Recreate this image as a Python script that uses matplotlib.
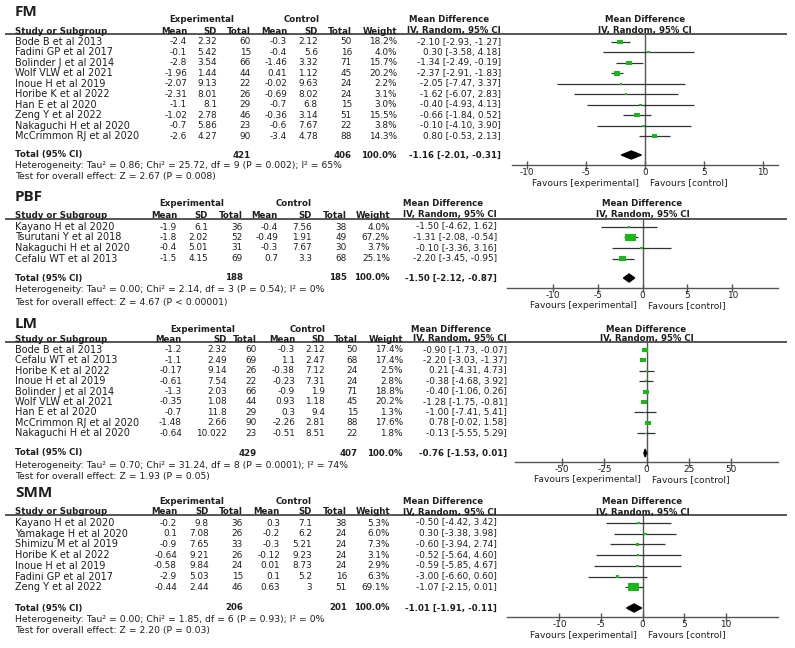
import numpy as np
import matplotlib.pyplot as plt

plt.rcParams['font.family'] = ['DejaVu Sans']

# ---------------- data ----------------
# FM
fm_studies = ['Bode B et al 2013', 'Fadini GP et al 2017', 'Bolinder J et al 2014',
              'Wolf VLW et al 2021', 'Inoue H et al 2019', 'Horibe K et al 2022',
              'Han E et al 2020', 'Zeng Y et al 2022', 'Nakaguchi H et al 2020',
              'McCrimmon RJ et al 2020']
fm_exp = [(-2.4, 2.32, 60), (-0.1, 5.42, 15), (-2.8, 3.54, 66), (-1.96, 1.44, 44),
          (-2.07, 9.13, 22), (-2.31, 8.01, 26), (-1.1, 8.1, 29), (-1.02, 2.78, 46),
          (-0.7, 5.86, 23), (-2.6, 4.27, 90)]
fm_ctl = [(-0.3, 2.12, 50), (-0.4, 5.6, 16), (-1.46, 3.32, 71), (0.41, 1.12, 45),
          (-0.02, 9.63, 24), (-0.69, 8.02, 24), (-0.7, 6.8, 15), (-0.36, 3.14, 51),
          (-0.6, 7.67, 22), (-3.4, 4.78, 88)]
fm_weight = [18.2, 4.0, 15.7, 20.2, 2.2, 3.1, 3.0, 15.5, 3.8, 14.3]
fm_ci = [(-2.10, -2.93, -1.27), (0.30, -3.58, 4.18), (-1.34, -2.49, -0.19),
         (-2.37, -2.91, -1.83), (-2.05, -7.47, 3.37), (-1.62, -6.07, 2.83),
         (-0.40, -4.93, 4.13), (-0.66, -1.84, 0.52), (-0.10, -4.10, 3.90),
         (0.80, -0.53, 2.13)]
fm_total = (421, 406, -1.16, -2.01, -0.31)
fm_het = 'Heterogeneity: Tau² = 0.86; Chi² = 25.72, df = 9 (P = 0.002); I² = 65%'
fm_test = 'Test for overall effect: Z = 2.67 (P = 0.008)'
fm_ticks = [-10, -5, 0, 5, 10]

# PBF
pbf_studies = ['Kayano H et al 2020', 'Tsurutani Y et al 2018',
               'Nakaguchi H et al 2020', 'Cefalu WT et al 2013']
pbf_exp = [(-1.9, 6.1, 36), (-1.8, 2.02, 52), (-0.4, 5.01, 31), (-1.5, 4.15, 69)]
pbf_ctl = [(-0.4, 7.56, 38), (-0.49, 1.91, 49), (-0.3, 7.67, 30), (0.7, 3.3, 68)]
pbf_weight = [4.0, 67.2, 3.7, 25.1]
pbf_ci = [(-1.50, -4.62, 1.62), (-1.31, -2.08, -0.54), (-0.10, -3.36, 3.16),
          (-2.20, -3.45, -0.95)]
pbf_total = (188, 185, -1.50, -2.12, -0.87)
pbf_het = 'Heterogeneity: Tau² = 0.00; Chi² = 2.14, df = 3 (P = 0.54); I² = 0%'
pbf_test = 'Test for overall effect: Z = 4.67 (P < 0.00001)'
pbf_ticks = [-10, -5, 0, 5, 10]

# LM
lm_studies = ['Bode B et al 2013', 'Cefalu WT et al 2013', 'Horibe K et al 2022',
              'Inoue H et al 2019', 'Bolinder J et al 2014', 'Wolf VLW et al 2021',
              'Han E et al 2020', 'McCrimmon RJ et al 2020', 'Nakaguchi H et al 2020']
lm_exp = [(-1.2, 2.32, 60), (-1.1, 2.49, 69), (-0.17, 9.14, 26), (-0.61, 7.54, 22),
          (-1.3, 2.03, 66), (-0.35, 1.08, 44), (-0.7, 11.8, 29), (-1.48, 2.66, 90),
          (-0.64, 10.022, 23)]
lm_ctl = [(-0.3, 2.12, 50), (1.1, 2.47, 68), (-0.38, 7.12, 24), (-0.23, 7.31, 24),
          (-0.9, 1.9, 71), (0.93, 1.18, 45), (0.3, 9.4, 15), (-2.26, 2.81, 88),
          (-0.51, 8.51, 22)]
lm_weight = [17.4, 17.4, 2.5, 2.8, 18.8, 20.2, 1.3, 17.6, 1.8]
lm_ci = [(-0.90, -1.73, -0.07), (-2.20, -3.03, -1.37), (0.21, -4.31, 4.73),
         (-0.38, -4.68, 3.92), (-0.40, -1.06, 0.26), (-1.28, -1.75, -0.81),
         (-1.00, -7.41, 5.41), (0.78, -0.02, 1.58), (-0.13, -5.55, 5.29)]
lm_total = (429, 407, -0.76, -1.53, 0.01)
lm_het = 'Heterogeneity: Tau² = 0.70; Chi² = 31.24, df = 8 (P = 0.0001); I² = 74%'
lm_test = 'Test for overall effect: Z = 1.93 (P = 0.05)'
lm_ticks = [-50, -25, 0, 25, 50]

# SMM
smm_studies = ['Kayano H et al 2020', 'Yamakage H et al 2020', 'Shimizu M et al 2019',
               'Horibe K et al 2022', 'Inoue H et al 2019', 'Fadini GP et al 2017',
               'Zeng Y et al 2022']
smm_exp = [(-0.2, 9.8, 36), (0.1, 7.08, 26), (-0.9, 7.65, 33), (-0.64, 9.21, 26),
           (-0.58, 9.84, 24), (-2.9, 5.03, 15), (-0.44, 2.44, 46)]
smm_ctl = [(0.3, 7.1, 38), (-0.2, 6.2, 24), (-0.3, 5.21, 24), (-0.12, 9.23, 24),
           (0.01, 8.73, 24), (0.1, 5.2, 16), (0.63, 3, 51)]
smm_weight = [5.3, 6.0, 7.3, 3.1, 2.9, 6.3, 69.1]
smm_ci = [(-0.50, -4.42, 3.42), (0.30, -3.38, 3.98), (-0.60, -3.94, 2.74),
          (-0.52, -5.64, 4.60), (-0.59, -5.85, 4.67), (-3.00, -6.60, 0.60),
          (-1.07, -2.15, 0.01)]
smm_total = (206, 201, -1.01, -1.91, -0.11)
smm_het = 'Heterogeneity: Tau² = 0.00; Chi² = 1.85, df = 6 (P = 0.93); I² = 0%'
smm_test = 'Test for overall effect: Z = 2.20 (P = 0.03)'
smm_ticks = [-10, -5, 0, 5, 10]

# ---------------- layout (pixels) ----------------
W, H = 795, 648
FS_NAME = 7
FS_NUM = 6.4
FS_BOLD = 6.2
FS_NOTE = 6.65
TXT = '#1e1e1e'
GREY = '#555555'
GREEN = '#17b817'

fig = plt.figure(figsize=(W / 100, H / 100), dpi=100)
bg = fig.add_axes([0, 0, 1, 1])
bg.set_xlim(0, W)
bg.set_ylim(H, 0)
bg.axis('off')


def txt(x, y, s, ha='left', bold=False, size=None, **kw):
    if size is None:
        size = FS_BOLD if bold else FS_NUM
    bg.text(x, y, s, ha=ha, va='center', fontsize=size, color=TXT,
            fontweight='bold' if bold else 'normal', **kw)


def num(v):
    return '%g' % v


rect = [(-1.45, -1), (1.45, -1), (1.45, 1), (-1.45, 1), (-1.45, -1)]


def panel(title, studies, exp, ctl, weight, ci, total, het, test, ticks, lay):
    cols = lay['cols']
    x0, x1 = lay['plot']
    zero = (x0 + x1) / 2
    line = lay['line']

    txt(15, lay['title'], title, bold=True, size=11, family='Open Sans')
    txt(lay['exp_c'], lay['h1'], 'Experimental', 'center', True)
    txt(lay['ctl_c'], lay['h1'], 'Control', 'center', True)
    txt(lay['md_c'], lay['h1'], 'Mean Difference', 'center', True)
    txt(zero, lay['h1'], 'Mean Difference', 'center', True)
    txt(15, lay['h2'], 'Study or Subgroup', bold=True)
    for cx, hd in zip(cols, ['Mean', 'SD', 'Total', 'Mean', 'SD', 'Total', 'Weight']):
        txt(cx, lay['h2'], hd, 'right', True)
    txt(lay['ci_r'], lay['h2'], 'IV, Random, 95% CI', 'right', True)
    txt(zero, lay['h2'], 'IV, Random, 95% CI', 'center', True)
    bg.plot([5, 787], [line, line], color=GREY, lw=1.4, solid_capstyle='butt')

    ys = lay['row0'] + lay['dy'] * np.arange(len(studies))
    for y, name, e, c, w, m in zip(ys, studies, exp, ctl, weight, ci):
        txt(15, y, name, size=FS_NAME)
        cells = [num(e[0]), num(e[1]), num(e[2]), num(c[0]), num(c[1]), num(c[2]),
                 '%.1f%%' % w]
        for cx, s in zip(cols, cells):
            txt(cx, y, s, 'right')
        txt(lay['ci_r'], y, '%.2f [%.2f, %.2f]' % m, 'right')

    ty = lay['total']
    n1, n2, tmd, tlo, thi = total
    txt(15, ty, 'Total (95% CI)', bold=True)
    txt(cols[2], ty, str(n1), 'right', True)
    txt(cols[5], ty, str(n2), 'right', True)
    txt(cols[6], ty, '100.0%', 'right', True)
    txt(lay['ci_r'], ty, '%.2f [%.2f, %.2f]' % (tmd, tlo, thi), 'right', True)
    txt(15, lay['het'], het, size=FS_NOTE)
    txt(15, lay['test'], test, size=FS_NOTE)

    # forest
    axis_y = lay['axis']
    ax = fig.add_axes([x0 / W, 1 - axis_y / H, (x1 - x0) / W, (axis_y - line) / H])
    ax.patch.set_alpha(0)
    ax.set_xlim(-lay['half'], lay['half'])
    ax.set_ylim(axis_y, line)
    for sp in ['top', 'left', 'right']:
        ax.spines[sp].set_visible(False)
    ax.spines['bottom'].set_color(GREY)
    ax.spines['bottom'].set_linewidth(1)
    ax.set_yticks([])
    ax.set_xticks(ticks)
    ax.set_xticklabels([str(v) for v in ticks])
    ax.tick_params(axis='x', direction='inout', length=6, width=1, color=GREY,
                   labelsize=6.4, pad=-0.5, labelcolor=TXT)
    ax.axvline(0, color=GREY, lw=1)
    md = [m[0] for m in ci]
    lo = [m[1] for m in ci]
    hi = [m[2] for m in ci]
    ax.hlines(ys, lo, hi, color='#333333', lw=0.9)
    wpx = 1.4 * np.sqrt(weight)
    ax.scatter(md, ys, s=(wpx * 0.72) ** 2, marker=rect, color=GREEN,
               linewidths=0, zorder=3)
    ax.fill([tlo, tmd, thi, tmd], [ty, ty - 4, ty, ty + 4], color='black', zorder=3)

    fy = axis_y + 18
    txt(zero - 6, fy, 'Favours [experimental]', 'right', size=6.6)
    txt(zero + 5, fy, 'Favours [control]', size=6.6)


panel('FM', fm_studies, fm_exp, fm_ctl, fm_weight, fm_ci, fm_total, fm_het, fm_test,
      fm_ticks,
      dict(title=12, h1=19, h2=31, line=34, row0=42, dy=10.45, total=155, het=166,
           test=177, axis=165, cols=[187, 217, 251, 287, 318, 352, 397], ci_r=501,
           exp_c=202, ctl_c=302, md_c=449, plot=(512, 778), half=11.3))
panel('PBF', pbf_studies, pbf_exp, pbf_ctl, pbf_weight, pbf_ci, pbf_total, pbf_het,
      pbf_test, pbf_ticks,
      dict(title=197, h1=204, h2=215, line=219, row0=227, dy=10.5, total=278, het=290,
           test=302, axis=288, cols=[177, 208, 243, 278, 312, 347, 390], ci_r=497,
           exp_c=192, ctl_c=294, md_c=443, plot=(507, 778), half=15.1))
panel('LM', lm_studies, lm_exp, lm_ctl, lm_weight, lm_ci, lm_total, lm_het, lm_test,
      lm_ticks,
      dict(title=324, h1=329, h2=339, line=342, row0=350, dy=10.4, total=453, het=465,
           test=476, axis=462, cols=[182, 227, 257, 295, 325, 358, 403], ci_r=507,
           exp_c=203, ctl_c=308, md_c=451, plot=(515, 778), half=78))
panel('SMM', smm_studies, smm_exp, smm_ctl, smm_weight, smm_ci, smm_total, smm_het,
      smm_test, smm_ticks,
      dict(title=493, h1=501, h2=512, line=515, row0=523, dy=10.7, total=608, het=619,
           test=631, axis=617, cols=[177, 209, 243, 280, 312, 347, 390], ci_r=497,
           exp_c=192, ctl_c=294, md_c=443, plot=(507, 778), half=16.3))

fig.savefig('out.png', dpi=100, facecolor='white')
